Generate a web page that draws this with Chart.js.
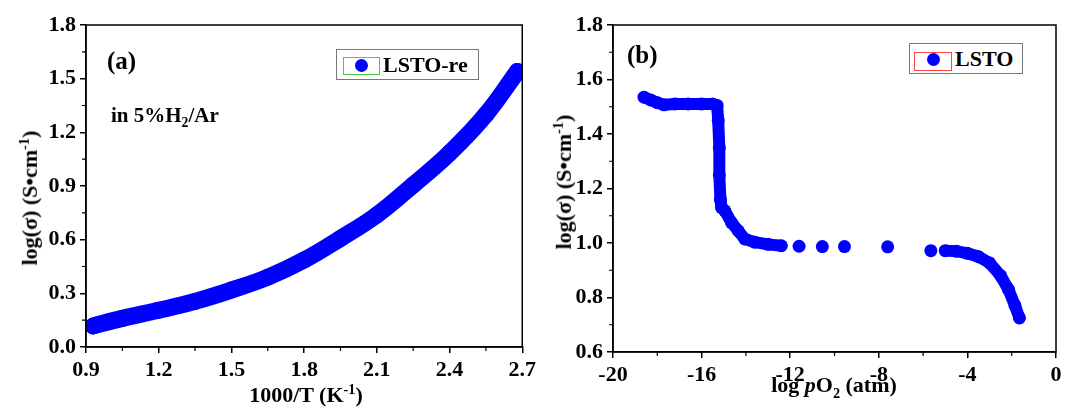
<!DOCTYPE html>
<html lang="en">
<head>
    <meta charset="UTF-8">
    <title>LSTO conductivity</title>
    <script src="https://cdn.jsdelivr.net/npm/chart.js"></script>
    <style>
        body { margin: 0; background: #fff; font-family: "Liberation Serif", serif; }
        #page { position: relative; width: 1067px; height: 412px; overflow: hidden; }
        canvas { position: absolute; top: 0; }
        .txt { position: absolute; font-weight: bold; color: #000; white-space: nowrap; line-height: 1; }
        .ytitle { position: absolute; font-weight: bold; font-size: 22px; white-space: nowrap;
                  transform: translate(-50%, -50%) rotate(-90deg); line-height: 1; }
        .xtitle { position: absolute; font-weight: bold; font-size: 22px; white-space: nowrap;
                  transform: translate(-50%, -50%); line-height: 1; }
        sup, sub { font-size: 65%; }
        .legend { position: absolute; border: 1.5px solid #777; background: #fff; }
        .legend .sym { position: absolute; }
        .legend .dot { position: absolute; width: 13px; height: 13px; border-radius: 50%; background: #0000ff; }
        .legend .lab { position: absolute; font-weight: bold; font-size: 22px; line-height: 1; }
    </style>
</head>
<body>
<div id="page">
    <canvas id="chartA" width="540" height="412" style="left:0;width:540px;height:412px"></canvas>
    <canvas id="chartB" width="527" height="412" style="left:540px;width:527px;height:412px"></canvas>

    <div class="txt" style="left:107px;top:48px;font-size:25px">(a)</div>
    <div class="txt" style="left:111px;top:105px;font-size:21px">in 5%H<sub>2</sub>/Ar</div>
    <div class="txt" style="left:627px;top:42px;font-size:25px">(b)</div>

    <div class="ytitle" style="left:29px;top:198px">log(σ) (S•cm<sup>-1</sup>)</div>
    <div class="ytitle" style="left:563px;top:182px">log(σ) (S•cm<sup>-1</sup>)</div>
    <div class="xtitle" style="left:306px;top:394px">1000/T (K<sup>-1</sup>)</div>
    <div class="xtitle" style="left:834px;top:387px">log <i>p</i>O<sub>2</sub> (atm)</div>

    <div class="legend" style="left:336px;top:49px;width:141px;height:29px">
        <div class="sym" style="left:6px;top:7px;width:35px;height:16px;border:1px solid #4c4"></div>
        <div class="dot" style="left:18px;top:9px"></div>
        <div class="lab" style="left:46px;top:4px">LSTO-re</div>
    </div>
    <div class="legend" style="left:909px;top:43px;width:112px;height:29px">
        <div class="sym" style="left:4px;top:8px;width:36px;height:17px;border:1px solid #f44"></div>
        <div class="dot" style="left:17px;top:9px"></div>
        <div class="lab" style="left:45px;top:4px">LSTO</div>
    </div>
</div>

<script>
    // (a) conductivity vs inverse temperature
    const invT = [0.93, 1.05, 1.2, 1.35, 1.5, 1.65, 1.8, 1.95, 2.1, 2.25, 2.4, 2.55, 2.68];
    const sigmaA = [0.118, 0.16, 0.205, 0.255, 0.318, 0.39, 0.486, 0.607, 0.738, 0.906, 1.084, 1.30, 1.54];

    // (b) conductivity vs oxygen partial pressure
    const logPO2 = [-18.6, -18.3, -18.0, -17.7, -17.2, -16.6, -16.0, -15.5, -15.3, -15.25, -15.2, -15.2, -15.15,
                    -15.1, -14.95, -14.65, -14.35, -14.05, -13.6, -13.0, -12.4, -11.6, -10.55, -9.55, -7.6,
                    -5.65, -5.0, -4.5, -4.0, -3.5, -3.0, -2.5, -2.15, -1.85, -1.65];
    const sigmaB = [1.535, 1.525, 1.515, 1.507, 1.51, 1.51, 1.51, 1.51, 1.505, 1.45, 1.35, 1.25, 1.16,
                    1.13, 1.118, 1.075, 1.045, 1.015, 1.003, 0.995, 0.99, 0.988, 0.987, 0.987, 0.986,
                    0.972, 0.972, 0.97, 0.962, 0.95, 0.927, 0.88, 0.83, 0.77, 0.725];

    const blue = '#0000ff';
    const tickFont = { family: 'Liberation Serif', size: 22, weight: 'bold' };

    // frame round the plot area plus short minor ticks between the majors
    const framePlugin = {
        id: 'frame',
        afterDraw(chart) {
            const ctx = chart.ctx;
            const a = chart.chartArea;
            ctx.save();
            ctx.strokeStyle = '#000';
            ctx.lineWidth = 1.5;
            ctx.strokeRect(a.left, a.top, a.right - a.left, a.bottom - a.top);
            ctx.lineWidth = 1.2;
            const xs = chart.scales.x, ys = chart.scales.y;
            const xt = xs.ticks.map(t => t.value), yt = ys.ticks.map(t => t.value);
            ctx.beginPath();
            for (let i = 0; i < xt.length - 1; i++) {
                const px = xs.getPixelForValue((xt[i] + xt[i + 1]) / 2);
                ctx.moveTo(px, a.bottom);
                ctx.lineTo(px, a.bottom + 4);
            }
            for (let i = 0; i < yt.length - 1; i++) {
                const py = ys.getPixelForValue((yt[i] + yt[i + 1]) / 2);
                ctx.moveTo(a.left, py);
                ctx.lineTo(a.left - 4, py);
            }
            ctx.stroke();
            ctx.restore();
        }
    };

    function axis(min, max, step, digits, extra) {
        return Object.assign({
            type: 'linear',
            min: min,
            max: max,
            grid: { drawOnChartArea: false, drawTicks: true, tickLength: 6, color: '#000', lineWidth: 1.5 },
            border: { display: true, color: '#000', width: 1.5 },
            ticks: {
                stepSize: step,
                color: '#000',
                font: tickFont,
                padding: 4,
                callback: v => Number(v).toFixed(digits)
            }
        }, extra);
    }

    new Chart(document.getElementById('chartA'), {
        type: 'scatter',
        data: {
            datasets: [{
                label: 'LSTO-re',
                data: invT.map((x, i) => ({ x: x, y: sigmaA[i] })),
                showLine: true,
                tension: 0.4,
                borderColor: blue,
                borderWidth: 17,
                borderCapStyle: 'round',
                borderJoinStyle: 'round',
                backgroundColor: blue,
                pointRadius: 8.5,
                pointBorderWidth: 0,
                clip: 0
            }]
        },
        options: {
            responsive: false,
            animation: false,
            layout: { padding: { left: 0, top: 25, right: 17, bottom: 0 } },
            scales: {
                x: axis(0.9, 2.7, 0.3, 1, { afterFit: s => { s.height = 65; } }),
                y: axis(0.0, 1.8, 0.3, 1, { afterFit: s => { s.width = 86; } })
            },
            plugins: { legend: { display: false }, tooltip: { enabled: false } }
        },
        plugins: [framePlugin]
    });

    new Chart(document.getElementById('chartB'), {
        type: 'scatter',
        data: {
            datasets: [{
                label: 'LSTO',
                data: logPO2.map((x, i) => ({ x: x, y: sigmaB[i] })),
                showLine: true,
                tension: 0,
                borderColor: blue,
                borderWidth: 12,
                borderCapStyle: 'round',
                borderJoinStyle: 'round',
                segment: {
                    // sparse measurements stand alone, dense runs merge into a band
                    borderColor: c => (c.p1.parsed.x - c.p0.parsed.x > 0.62 ? 'transparent' : blue)
                },
                backgroundColor: blue,
                pointRadius: 6.5,
                pointBorderWidth: 0,
                clip: 0
            }]
        },
        options: {
            responsive: false,
            animation: false,
            layout: { padding: { left: 0, top: 25, right: 11, bottom: 0 } },
            scales: {
                x: axis(-20, 0, 4, 0, { afterFit: s => { s.height = 60; } }),
                y: axis(0.6, 1.8, 0.2, 1, { afterFit: s => { s.width = 73; } })
            },
            plugins: { legend: { display: false }, tooltip: { enabled: false } }
        },
        plugins: [framePlugin]
    });
</script>
</body>
</html>
